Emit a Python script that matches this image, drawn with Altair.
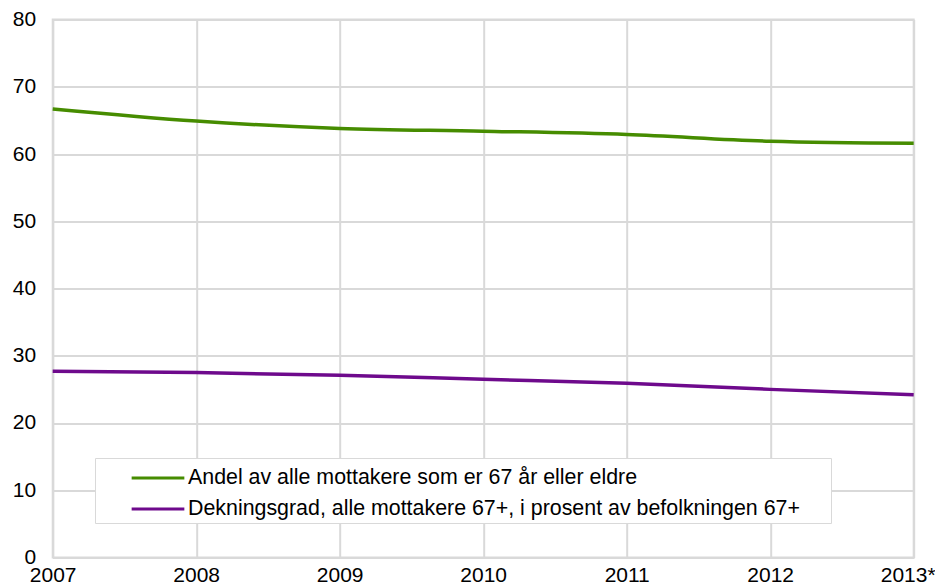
import altair as alt
import pandas as pd

years = [2007, 2008, 2009, 2010, 2011, 2012, 2013]
andel = [66.7, 64.9, 63.8, 63.4, 62.9, 61.9, 61.6]
dekning = [27.7, 27.5, 27.1, 26.5, 25.9, 25.0, 24.2]
series_names = [
    "Andel av alle mottakere som er 67 år eller eldre",
    "Dekningsgrad, alle mottakere 67+, i prosent av befolkningen 67+",
]
colors = ["#468C00", "#6E0A8C"]
y_ticks = [0, 10, 20, 30, 40, 50, 60, 70, 80]

rows = []
for y, v in zip(years, andel):
    rows.append({"year": y, "value": v, "series": series_names[0]})
for y, v in zip(years, dekning):
    rows.append({"year": y, "value": v, "series": series_names[1]})
df = pd.DataFrame(rows)

font = "Liberation Sans"

chart = (
    alt.Chart(df)
    .mark_line(strokeWidth=3.5, interpolate="monotone")
    .encode(
        x=alt.X(
            "year:Q",
            scale=alt.Scale(domain=[2007, 2013], nice=False, zero=False),
            axis=alt.Axis(
                values=years,
                format="d",
                labelExpr="datum.value == 2013 ? '2013*' : datum.label",
                labelOffset={"condition": {"test": "datum.value == 2013", "value": -6}, "value": 0},
                title=None,
                tickSize=0,
                labelPadding=7,
                labelFontSize=21,
                labelColor="#000000",
                labelFont=font,
                gridColor="#d9d9d9",
                gridWidth=2,
                domainColor="#d9d9d9",
                domainWidth=2,
                labelFlush=False,
                labelOverlap=False,
            ),
        ),
        y=alt.Y(
            "value:Q",
            scale=alt.Scale(domain=[0, 80], nice=False),
            axis=alt.Axis(
                values=y_ticks,
                title=None,
                tickSize=0,
                labelPadding=17,
                labelFontSize=21,
                labelColor="#000000",
                labelFont=font,
                gridColor="#d9d9d9",
                gridWidth=2,
                domainColor="#d9d9d9",
                domainWidth=2,
                labelOverlap=False,
            ),
        ),
        color=alt.Color(
            "series:N",
            scale=alt.Scale(domain=series_names, range=colors),
            legend=alt.Legend(
                orient="none",
                legendX=42.3,
                legendY=438.5,
                title="\u00a0",
                titleOrient="right",
                titlePadding=28,
                titleFontSize=21,
                fillColor="#ffffff",
                strokeColor="#d9d9d9",
                padding=3,
                symbolType="M-1.7,0H1.7",
                symbolStrokeWidth=3,
                symbolSize=961,
                symbolOffset=43,
                labelFontSize=21.4,
                labelFont=font,
                labelColor="#000000",
                labelOffset=13,
                labelLimit=1000,
                rowPadding=3,
            ),
        ),
    )
    .properties(
        width=861,
        height=538,
        autosize=alt.AutoSizeParams(type="none"),
        padding={"left": 44.7, "top": 11.5, "right": 21, "bottom": 27},
    )
    .configure_view(stroke="#d9d9d9", strokeWidth=2)
)

chart.save("out.html", embed_options={"renderer": "svg", "actions": False})
